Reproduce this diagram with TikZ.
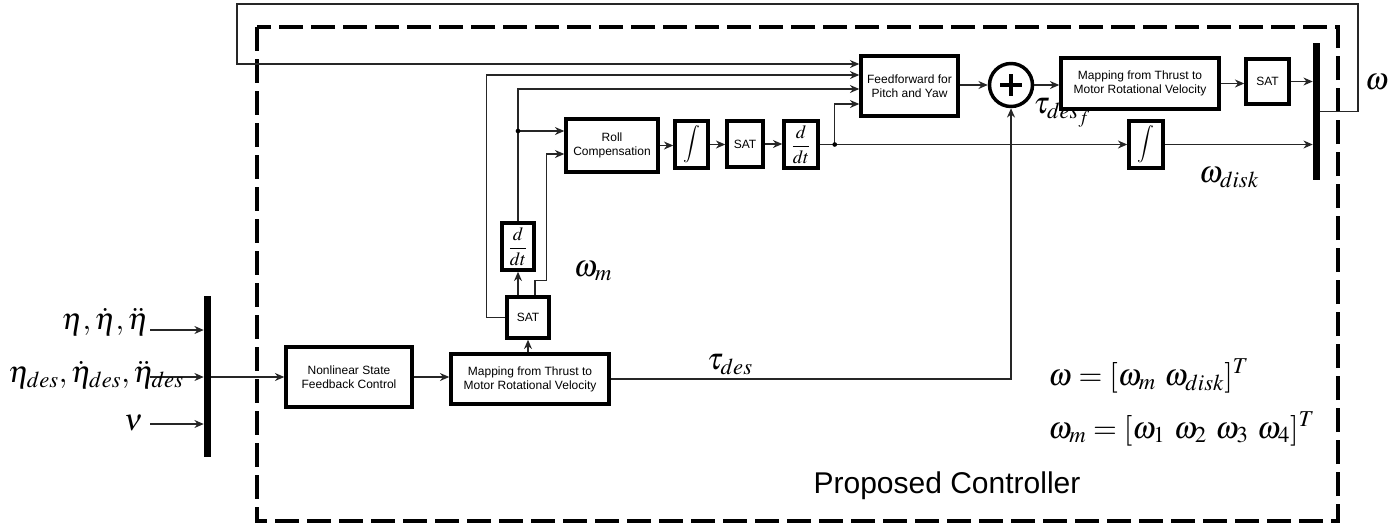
\documentclass[tikz,border=0pt]{standalone}
\usepackage{mathptmx}
\usepackage[no-math]{fontspec}
\setmainfont{Liberation Sans}
\usetikzlibrary{arrows.meta,calc}
\begin{document}
\begin{tikzpicture}[x=0.75pt,y=-0.75pt,
  sz/.style 2 args={minimum width=#1*0.75pt,minimum height=#2*0.75pt},
  blk/.style={draw,line width=2.6pt,align=center,inner sep=0pt,font=\fontsize{9}{10.5}\selectfont},
  conn/.style={line width=0.9pt,draw=black!85},
  arr/.style={conn,-{Stealth[length=7pt,width=6pt]}},
  bar/.style={fill=black,draw=none,minimum width=5.25pt,inner sep=0pt},
  lbl/.style={font=\fontsize{23}{27}\selectfont,inner sep=0pt},
  dot/.style={circle,fill=black,inner sep=0pt,minimum size=3.5pt},
  op/.style={font=\fontsize{14}{16}\selectfont}
]
\useasboundingbox (0,0) rectangle (1395,529);
% controller frame
\draw[line width=3pt,dash pattern=on 18pt off 6pt] (257,27) rectangle (1338,521);

% blocks
\node[bar,minimum height=161*0.75pt] (bar1) at (207.5,376.5) {};
\node[blk,sz={126}{60}] (nl) at (349,377) {Nonlinear State\\Feedback Control};
\node[blk,sz={158}{50}] (map1) at (530,379) {Mapping from Thrust to\\Motor Rotational Velocity};
\node[blk,sz={42}{41}] (sat1) at (528,317.5) {SAT};
\node[blk,sz={32}{47},op] (dt1) at (518,246.5) {$\displaystyle\frac{d}{dt}$};
\node[blk,sz={92}{53}] (roll) at (612,145.5) {Roll\\Compensation};
\node[blk,sz={33}{47},op] (int1) at (691.5,144.5) {$\displaystyle\int$};
\node[blk,sz={36}{46}] (sat2) at (745,144) {SAT};
\node[blk,sz={34}{47},op] (dt2) at (801,144.5) {$\displaystyle\frac{d}{dt}$};
\node[blk,sz={97}{60}] (ff) at (909.5,86) {Feedforward for\\Pitch and Yaw};
\node[circle,draw,line width=2.6pt,minimum size=43*0.75pt,inner sep=0pt] (sum) at (1011,85) {};
\draw[line width=3pt] ($(sum.center)+(-11,0)$) -- ($(sum.center)+(11,0)$);
\draw[line width=3pt] ($(sum.center)+(0,-11)$) -- ($(sum.center)+(0,11)$);
\node[blk,sz={158}{51}] (map2) at (1140,83.5) {Mapping from Thrust to\\Motor Rotational Velocity};
\node[blk,sz={43}{45}] (sat3) at (1267.5,81.5) {SAT};
\node[bar,minimum height=137*0.75pt] (bar2) at (1316.5,111.5) {};
\node[blk,sz={34}{47},op] (int2) at (1146,144.5) {$\displaystyle\int$};

% inputs
\coordinate (a1) at (150,330);
\coordinate (a2) at (150,377);
\coordinate (a3) at (150,424);
\draw[arr] (a1) -- (a1 -| bar1.west);
\draw[arr] (a2) -- (a2 -| bar1.west);
\draw[arr] (a3) -- (a3 -| bar1.west);

% lower chain
\draw[arr] (bar1.east |- nl.west) -- (nl.west);
\draw[arr] (nl.east) -- (map1.west |- nl.east);
\draw[arr] (sat1.south |- map1.north) -- (sat1.south);
\draw[arr] (dt1.south |- sat1.north) -- (dt1.south);
\draw[arr] ($(sat1.north)+(7,0)$) -- ++(0,-15) -| ($(roll.west)+(-18,8.5)$) -- ($(roll.west)+(0,8.5)$);
\coordinate (j1) at (dt1.north |- {$(roll.west)+(0,-14.5)$});
\draw[arr] (dt1.north) |- ($(ff.west)+(0,3)$);
\draw[arr] (j1) -- (j1 -| roll.west);
\node[dot] at (j1) {};
\draw[arr] (sat1.west) -- ++(-19,0) |- ($(ff.west)+(0,-11)$);

% upper chain
\draw[arr] (roll.east) -- (roll.east -| int1.west);
\draw[arr] (int1.east) -- (int1.east -| sat2.west);
\draw[arr] (sat2.east) -- (sat2.east -| dt2.west);
\draw[arr] (dt2.east) -- (dt2.east -| int2.west);
\draw[arr] (int2.east) -- (int2.east -| bar2.west);
\coordinate (j2) at ($(dt2.east)+(15,0)$);
\draw[arr] (j2) |- ($(ff.west)+(0,18)$);
\node[dot] at (j2) {};
\draw[arr] (ff.east |- sum.west) -- (sum.west);
\draw[arr] (sum.east) -- (sum.east -| map2.west);
\draw[arr] (map2.east) -- (map2.east -| sat3.west);
\draw[arr] (sat3.east) -- (sat3.east -| bar2.west);
\draw[arr] (map1.east) -| (sum.south);

% feedback of omega
\coordinate (fb1) at (1358,4);
\coordinate (fb2) at (237,4);
\draw[arr] (bar2.east) -| (fb1) -- (fb2) |- ($(ff.west)+(0,-22)$);

% labels
\node[lbl,anchor=base east] (in1) at (149,329) {$\eta, \dot\eta, \ddot\eta$};
\node[lbl,anchor=base west] (in2) at (8,382) {$\eta_{des}, \dot\eta_{des}, \ddot\eta_{des}$};
\node[lbl,anchor=base east] (in3) at (143,430) {$\nu$};
\node[lbl] (wm) at (593,271) {$\omega_m$};
\node[lbl] (td) at (730,365) {$\tau_{des}$};
\node[lbl] (tdf) at (1062,113) {$\tau_{des_f}$};
\node[lbl] (wd) at (1229,178) {$\omega_{disk}$};
\node[lbl] (w) at (1377,82) {$\omega$};
\node[lbl,anchor=base west] (eq1) at (1048,385) {$\omega = [\omega_m\ \omega_{disk}]^T$};
\node[lbl,anchor=base west] (eq2) at (1048,438) {$\omega_m = [\omega_1\ \omega_2\ \omega_3\ \omega_4]^T$};
\node[font=\fontsize{22.5}{26}\selectfont,inner sep=0pt] (pc) at (947,486) {Proposed Controller};
\end{tikzpicture}
\end{document}
